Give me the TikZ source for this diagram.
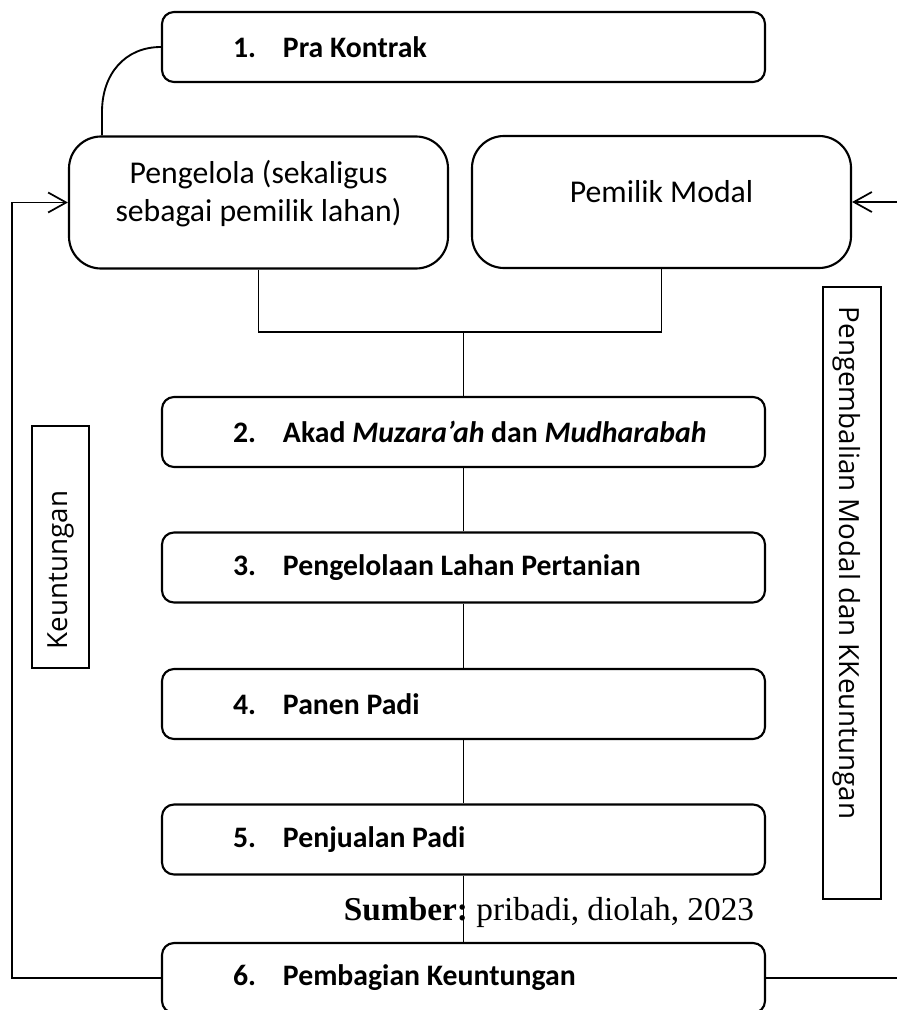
\documentclass[tikz,border=0pt]{standalone}
\usepackage{fontspec}
\setmainfont{Carlito}
\newfontfamily\osans{Open Sans}
\newfontfamily\sumberfont{Liberation Serif}
\usetikzlibrary{arrows.meta}
\frenchspacing
\newcommand{\steplabel}[2]{\makebox[345.75pt][l]{\makebox[37.5pt][l]{#1}#2}}
\begin{document}
\begin{tikzpicture}[x=0.75pt,y=-0.75pt,
  stepbox/.style={draw, line width=1.6pt, rounded corners=9pt, minimum height=52.5pt, inner xsep=53.25pt, inner ysep=0pt, font=\fontsize{22.3}{26}\selectfont\bfseries},
  party/.style={draw, line width=1.6pt, rounded corners=24pt, minimum width=284.25pt, minimum height=99pt, inner sep=0pt},
  partytext/.style={align=center, font=\fontsize{23.8}{28.5}\selectfont},
  vbox/.style={draw, line width=0.8pt, inner sep=0pt},
  vtext/.style={font=\osans\fontsize{20.8}{24}\selectfont},
  link/.style={line width=1.4pt},
  arr/.style={line width=1.4pt, -{Straight Barb[length=13.5pt, width=15pt, line width=1.3pt]}}
]
\useasboundingbox (0,0) rectangle (896,1010);

% step boxes
\node[stepbox] (b1) at (463.5,47) {\steplabel{1.}{Pra Kontrak}};
\node[stepbox] (b2) at (463.5,432) {\steplabel{2.}{Akad \textit{Muzara’ah} dan \textit{Mudharabah}}};
\node[stepbox] (b3) at (463.5,567.5) {\steplabel{3.}{Pengelolaan Lahan Pertanian}};
\node[stepbox] (b4) at (463.5,704) {\steplabel{4.}{Panen Padi}};
\node[stepbox] (b5) at (463.5,839.5) {\steplabel{5.}{Penjualan Padi}};
\node[stepbox] (b6) at (463.5,978) {\steplabel{6.}{Pembagian Keuntungan}};

% parties
\node[party] (peng) at (258.5,202.5) {};
\node[partytext] (pengt) at (258.5,194) {Pengelola (sekaligus\\sebagai pemilik lahan)};
\node[party] (pem) at (661.5,202) {};
\node[partytext] (pemt) at (661.5,192) {Pemilik Modal};

% vertical label boxes
\node[vbox, minimum width=42.75pt, minimum height=181.5pt] (kbox) at (60.5,547) {};
\node[vtext, rotate=90] (kt) at (61,570) {Keuntungan};
\node[vbox, minimum width=43.5pt, minimum height=459pt] (rbox) at (852,593) {};
\node[vtext, rotate=-90] (rt) at (847,563) {Pengembalian Modal dan KKeuntungan};

% source text
\node[font=\sumberfont\fontsize{25}{29}\selectfont] (src) at (549,912) {\textbf{Sumber:} pribadi, diolah, 2023};

% connectors
\coordinate (j1) at (463.5,332);
\coordinate (cv) at (102,112);
\draw[link] (b1.west) .. controls +(-36,0) and +(0,-38) .. (cv) -- (cv |- peng.north);
\draw[link] (peng.south) |- (j1) -| (pem.south);
\draw[link] (j1) -- (b2.north);
\draw[link] (b2.south) -- (b3.north);
\draw[link] (b3.south) -- (b4.north);
\draw[link] (b4.south) -- (b5.north);
\draw[link] (b5.south) -- (b6.north);

\coordinate (lc) at (12,0);
\coordinate (rc) at (898,0);
\draw[arr] (b6.west) -| (lc |- peng.west) -- (peng.west);
\draw[arr] (b6.east) -| (rc |- pem.east) -- (pem.east);
\end{tikzpicture}
\end{document}
